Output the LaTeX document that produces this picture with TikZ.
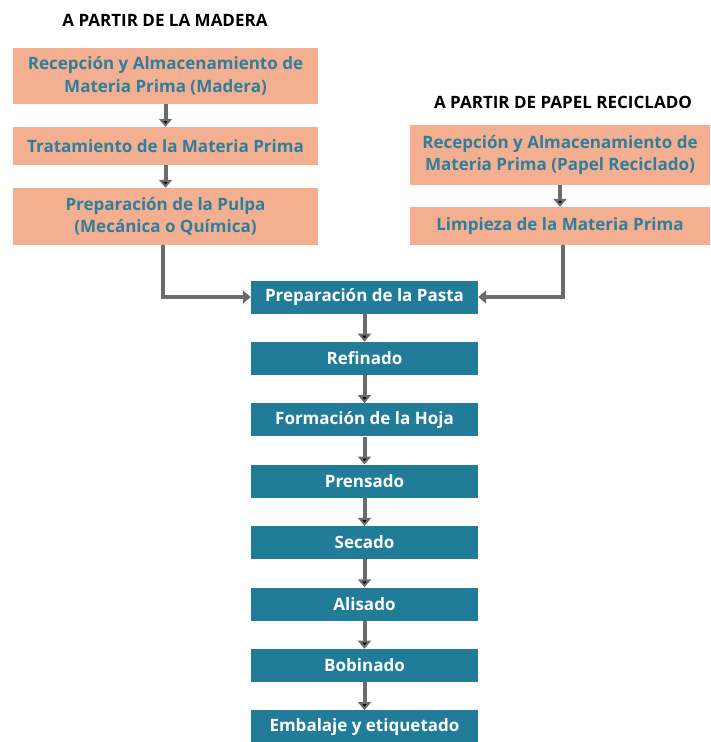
\documentclass[tikz,border=0pt]{standalone}
\usepackage{fontspec}
\setmainfont{Open Sans}
\usepackage{tikz}
\usetikzlibrary{positioning}
\usetikzlibrary{arrows.meta}
\makeatletter
\tikzset{font append/.style={font/.expand once=\tikz@textfont #1},
         font append/.value required}
\makeatother
\definecolor{salmon}{HTML}{F4AE90}
\definecolor{tealtext}{HTML}{2F7E9C}
\definecolor{tealbox}{HTML}{217C9A}
\definecolor{arrowgray}{HTML}{6B6B6B}
\tikzstyle{heading}=[font append=\bfseries,text=black]
\tikzstyle{raw}=[font append=\bfseries,rectangle,fill=salmon,text=tealtext,align=center,inner sep=1pt]
\tikzstyle{proc}=[font append=\bfseries,rectangle,fill=tealbox,text=white,align=center,minimum width=227pt,minimum height=33pt,inner sep=1pt]
\begin{document}
\begin{tikzpicture}
	[x=1pt,y=-1pt,font=\fontsize{17}{22.5}\selectfont,node distance=28pt]
	\tikzstyle{arrow}=[-{Triangle[width=13pt,length=8pt]},line width=4pt,draw=arrowgray];
	\useasboundingbox (0,0) rectangle (710,742);
	% a partir de la madera
	\node (madera) [heading] at (165,20) {A PARTIR DE LA MADERA};
	\node (m1) [raw,minimum width=305pt,minimum height=56pt] at (165.5,76) {Recepción y Almacenamiento de\\Materia Prima (Madera)};
	\node (m2) [raw,minimum width=305pt,minimum height=38pt] at (165.5,146) {Tratamiento de la Materia Prima};
	\node (m3) [raw,minimum width=305pt,minimum height=57pt] at (165.5,216.5) {Preparación de la Pulpa\\(Mecánica o Química)};
	% a partir de papel reciclado
	\node (papel) [heading] at (563,102) {A PARTIR DE PAPEL RECICLADO};
	\node (r1) [raw,minimum width=300pt,minimum height=60pt] at (560,155) {Recepción y Almacenamiento de\\Materia Prima (Papel Reciclado)};
	\node (r2) [raw,minimum width=300pt,minimum height=38pt] at (560,226) {Limpieza de la Materia Prima};
	% proceso comun
	\node (pasta) [proc] at (364.5,297) {Preparación de la Pasta};
	\node (refinado) [proc,below=of pasta] {Refinado};
	\node (hoja) [proc,below=of refinado] {Formación de la Hoja};
	\node (prensado) [proc,below=of hoja] {Prensado};
	\node (secado) [proc,below=of prensado] {Secado};
	\node (alisado) [proc,below=of secado] {Alisado};
	\node (bobinado) [proc,below=of alisado] {Bobinado};
	\node (embalaje) [proc,below=of bobinado] {Embalaje y etiquetado};
	\path[arrow]
		(m1) edge (m2)
		(m2) edge (m3)
		(r1) edge (r2)
		(pasta) edge (refinado)
		(refinado) edge (hoja)
		(hoja) edge (prensado)
		(prensado) edge (secado)
		(secado) edge (alisado)
		(alisado) edge (bobinado)
		(bobinado) edge (embalaje);
	\draw[arrow] ([xshift=-3pt]m3.south) |- (pasta.west);
	\draw[arrow] ([xshift=3pt]r2.south) |- (pasta.east);
\end{tikzpicture}
\end{document}
